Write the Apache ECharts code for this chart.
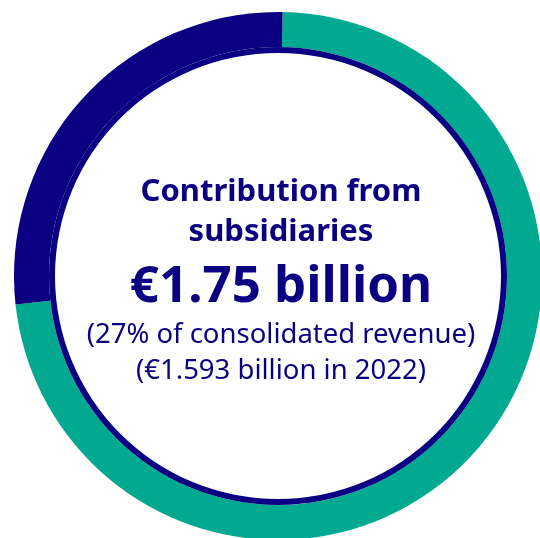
<!DOCTYPE html>
<html>
<head>
<meta charset="utf-8">
<style>
  html, body { margin: 0; padding: 0; background: #ffffff; }
  #chart { width: 540px; height: 538px; }
</style>
<script src="https://cdn.jsdelivr.net/npm/echarts@6/dist/echarts.min.js"></script>
</head>
<body>
<div id="chart"></div>
<script>
// Share of consolidated revenue (%)
const segmentNames = ['Other revenue', 'Subsidiaries'];
const segmentValues = [73, 27];
const segmentColors = ['#00a98f', '#0b0082'];

// Centre text lines
const titleLines = ['Contribution from', 'subsidiaries'];
const headline = '€1.75 billion';
const noteLines = ['(27% of consolidated revenue)', '(€1.593 billion in 2022)'];

const NAVY = '#0b0082';
const FONT = '"Noto Sans", sans-serif';
const CX = 278, CY = 276;

const chart = echarts.init(document.getElementById('chart'), null, { renderer: 'canvas' });

const textX = 281;
const graphics = [
  { type: 'text', x: textX, y: 208, style: { text: titleLines[0], fill: NAVY, font: 'bold 31px ' + FONT, textAlign: 'center', textVerticalAlign: 'bottom' } },
  { type: 'text', x: textX, y: 248, style: { text: titleLines[1], fill: NAVY, font: 'bold 31px ' + FONT, textAlign: 'center', textVerticalAlign: 'bottom' } },
  { type: 'text', x: textX, y: 313, style: { text: headline, fill: NAVY, font: 'bold 51px ' + FONT, textAlign: 'center', textVerticalAlign: 'bottom' } },
  { type: 'text', x: textX, y: 349, style: { text: noteLines[0], fill: NAVY, font: '27.5px ' + FONT, textAlign: 'center', textVerticalAlign: 'bottom' } },
  { type: 'text', x: textX, y: 385, style: { text: noteLines[1], fill: NAVY, font: '27.5px ' + FONT, textAlign: 'center', textVerticalAlign: 'bottom' } }
];

chart.setOption({
  animation: false,
  backgroundColor: '#ffffff',
  series: [
    {
      type: 'pie',
      center: [CX, CY],
      radius: [229, 264],
      startAngle: 89,
      clockwise: true,
      silent: true,
      label: { show: false },
      labelLine: { show: false },
      itemStyle: { borderWidth: 0 },
      data: segmentNames.map((n, i) => ({ name: n, value: segmentValues[i], itemStyle: { color: segmentColors[i] } }))
    },
    {
      // thin navy rim around the white centre
      type: 'pie',
      center: [CX, CY],
      radius: [223, 229],
      silent: true,
      label: { show: false },
      labelLine: { show: false },
      itemStyle: { color: NAVY, borderWidth: 0 },
      data: [{ name: 'rim', value: 1 }]
    }
  ],
  graphic: graphics
});
</script>
</body>
</html>
